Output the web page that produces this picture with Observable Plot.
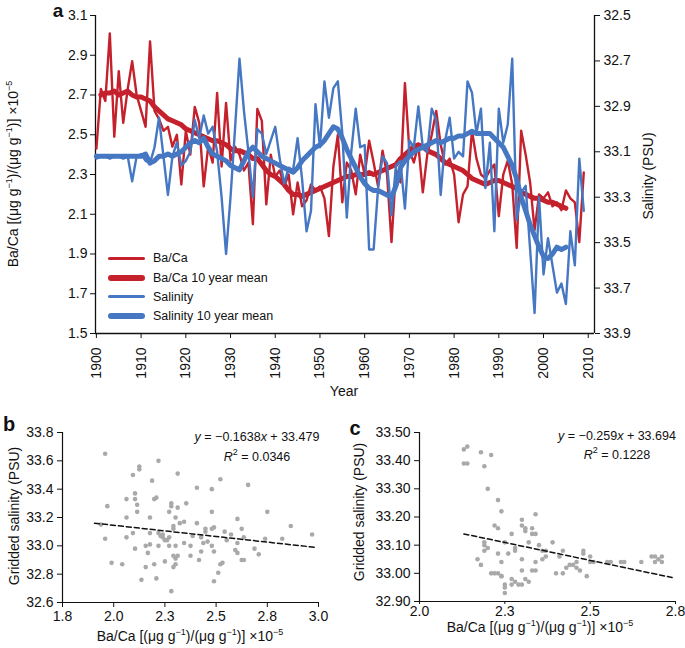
<!DOCTYPE html>
<html><head><meta charset="utf-8">
<script src="https://cdn.jsdelivr.net/npm/d3@7"></script>
<script src="https://cdn.jsdelivr.net/npm/@observablehq/plot@0.6"></script>
<style>
body{margin:0;background:#fff;font-family:"Liberation Sans",Arial,Helvetica,sans-serif;}
#wrap{position:relative;width:685px;height:648px;overflow:hidden;background:#fff;}
.lbl{position:absolute;font-size:14px;color:#111;white-space:nowrap;text-align:center;height:20px;line-height:20px;width:340px;}
.sup{font-size:9px;position:relative;top:-6px;}
.leg{position:absolute;font-size:12.5px;color:#111;white-space:nowrap;line-height:16px;}
.sw{position:absolute;}
</style></head><body><div id="wrap"></div>
<script>
// ---------- DATA ----------
const firstYear = 1900;
const baCa = [2.43,2.73,2.67,3.01,2.49,2.82,2.56,2.73,2.87,2.70,
 2.62,2.54,2.97,2.62,2.58,2.52,2.54,2.44,2.50,2.25,
 2.52,2.40,2.64,2.56,2.24,2.44,2.36,2.71,2.34,2.66,
 2.37,2.44,2.40,2.32,2.36,2.05,2.63,2.57,2.15,2.40,
 2.29,2.32,2.24,2.30,2.10,2.26,2.14,2.17,2.25,2.22,
 2.24,2.18,1.99,2.34,2.50,2.16,2.36,2.32,2.20,2.40,
 2.30,2.47,2.36,2.24,2.42,2.30,1.96,2.32,2.26,2.76,
 2.42,2.36,2.45,2.21,2.40,2.50,2.62,2.45,2.35,2.38,
 2.30,2.06,2.20,2.24,2.52,2.38,2.30,2.28,2.32,2.35,
 2.09,2.30,2.37,2.25,1.93,2.52,2.40,2.26,2.02,2.20,
 2.18,2.21,2.14,2.16,2.12,2.22,2.18,2.16,1.96,2.31];
const salinity = [33.13,33.12,33.12,33.13,33.12,33.12,33.13,33.12,33.23,33.12,
 33.11,33.14,33.15,33.08,32.95,33.12,33.29,33.12,33.06,33.16,
 33.14,33.10,32.96,33.04,32.94,33.02,32.99,33.10,33.30,33.55,
 33.30,33.00,32.69,32.92,33.10,33.30,33.00,33.02,33.11,33.05,
 32.99,33.13,33.24,33.17,33.18,33.04,33.22,33.45,33.36,32.89,
 33.08,32.79,32.95,32.82,32.79,33.02,33.39,33.10,32.91,33.08,
 33.07,33.53,33.53,33.26,33.12,33.15,33.38,33.16,33.14,33.35,
 33.05,33.08,32.90,33.08,33.10,32.91,32.96,33.29,33.05,32.95,
 33.13,33.10,33.12,32.79,32.84,33.02,32.91,33.26,33.06,33.45,
 32.91,33.06,32.98,32.69,33.40,33.28,33.25,33.53,33.81,33.30,
 33.64,33.48,33.60,33.72,33.68,33.77,33.45,33.60,33.13,33.36];
const baMeanStart = 1901;
const baMean = [2.70,2.71,2.71,2.72,2.70,2.71,2.72,2.70,2.69,2.69,
 2.68,2.67,2.64,2.62,2.60,2.58,2.57,2.56,2.55,2.53,
 2.52,2.51,2.50,2.49,2.48,2.47,2.47,2.46,2.45,2.43,
 2.42,2.42,2.41,2.40,2.38,2.38,2.35,2.32,2.30,2.29,
 2.27,2.25,2.22,2.20,2.20,2.19,2.20,2.21,2.22,2.23,
 2.24,2.25,2.26,2.27,2.28,2.29,2.29,2.30,2.30,2.30,
 2.31,2.30,2.31,2.32,2.33,2.34,2.35,2.38,2.40,2.42,
 2.44,2.45,2.44,2.42,2.41,2.40,2.38,2.36,2.35,2.34,
 2.33,2.32,2.30,2.28,2.27,2.26,2.25,2.26,2.27,2.27,
 2.26,2.25,2.24,2.23,2.21,2.20,2.19,2.18,2.18,2.17,
 2.16,2.16,2.15,2.14,2.13];
const salMeanStart = 1900;
const salMean = [33.12,33.12,33.12,33.12,33.12,33.12,33.12,33.12,33.12,33.12,
 33.12,33.11,33.15,33.14,33.12,33.12,33.11,33.12,33.11,33.10,
 33.08,33.06,33.05,33.06,33.04,33.08,33.11,33.12,33.13,33.14,
 33.16,33.17,33.18,33.14,33.10,33.08,33.10,33.12,33.13,33.14,
 33.15,33.16,33.17,33.18,33.19,33.17,33.14,33.12,33.10,33.08,
 33.07,33.05,33.02,32.99,33.00,33.04,33.09,33.13,33.17,33.21,
 33.24,33.26,33.27,33.27,33.28,33.29,33.30,33.25,33.17,33.14,
 33.12,33.10,33.09,33.08,33.07,33.06,33.05,33.06,33.05,33.04,
 33.04,33.03,33.03,33.02,33.01,33.02,33.02,33.02,33.02,33.04,
 33.06,33.08,33.12,33.16,33.22,33.30,33.36,33.42,33.47,33.52,
 33.56,33.57,33.55,33.52,33.53,33.52];

const yearTicks = [1900,1910,1920,1930,1940,1950,1960,1970,1980,1990,2000,2010];
const baTicks = [1.5,1.7,1.9,2.1,2.3,2.5,2.7,2.9,3.1];
const salTicks = [32.5,32.7,32.9,33.1,33.3,33.5,33.7,33.9];

// panel b
const bBaCa = [2.00,2.01,1.98,2.00,2.03,2.08,2.10,2.10,2.10,2.13,2.13,2.14,2.14,2.14,2.15,2.15,2.16,2.16,2.17,2.19,
 2.19,2.20,2.21,2.21,2.21,2.22,2.23,2.23,2.24,2.24,2.25,2.25,2.25,2.26,2.27,2.27,2.28,2.28,2.29,2.30,
 2.30,2.30,2.31,2.31,2.31,2.32,2.32,2.32,2.32,2.33,2.33,2.33,2.33,2.34,2.34,2.34,2.35,2.37,2.37,2.38,
 2.40,2.40,2.41,2.43,2.43,2.44,2.45,2.45,2.46,2.47,2.47,2.48,2.50,2.50,2.50,2.50,2.51,2.51,2.51,2.53,
 2.54,2.54,2.55,2.56,2.57,2.59,2.61,2.62,2.62,2.62,2.64,2.64,2.65,2.65,2.67,2.70,2.72,2.76,2.75,2.83,
 2.87,2.97];
const bSal = [33.65,33.28,33.15,33.05,32.88,32.87,33.20,33.33,33.06,33.09,33.50,32.98,33.33,33.37,33.29,33.24,33.56,33.54,32.76,32.85,
 33.00,32.95,33.20,33.01,33.09,33.46,32.87,33.33,33.34,32.77,33.60,33.00,33.09,33.07,33.08,33.06,32.89,33.04,33.04,33.06,
 33.00,33.24,32.68,33.30,33.28,33.12,32.85,32.93,33.14,32.87,33.00,32.91,33.20,33.27,33.51,32.93,33.16,33.17,33.02,33.30,
 32.93,33.00,33.07,33.41,33.16,32.90,32.96,33.06,33.02,33.10,33.12,33.03,33.12,33.24,33.40,33.00,33.13,32.75,32.96,32.81,
 32.87,33.47,32.88,33.10,33.04,33.08,32.97,32.95,33.02,33.19,33.12,32.90,32.90,33.06,33.43,32.98,32.94,33.24,33.05,33.05,
 33.14,33.08];
const bFitX = [1.95, 2.98];
const bFitY = [33.16, 32.99];
const bXTicks = [1.8, 2.04, 2.28, 2.52, 2.76, 3.0];
const bXLabels = ["1.8","2.0","2.3","2.5","2.8","3.0"];
const bYTicks = [32.6,32.8,33.0,33.2,33.4,33.6,33.8];

// panel c
const cBaCa = [2.13,2.14,2.13,2.14,2.18,2.21,2.19,2.20,2.23,2.24,2.22,2.23,2.19,2.19,2.19,2.20,2.17,2.18,2.21,2.22,
 2.23,2.23,2.24,2.24,2.25,2.24,2.25,2.25,2.25,2.26,2.27,2.27,2.27,2.28,2.28,2.28,2.29,2.30,2.30,2.30,
 2.30,2.31,2.31,2.30,2.31,2.32,2.32,2.33,2.33,2.34,2.34,2.33,2.34,2.34,2.35,2.36,2.36,2.37,2.37,2.39,
 2.40,2.41,2.42,2.42,2.43,2.44,2.45,2.46,2.46,2.47,2.48,2.48,2.49,2.50,2.50,2.51,2.55,2.56,2.59,2.60,
 2.65,2.68,2.69,2.69,2.70,2.71,2.71];
const cSal = [33.44,33.45,33.39,33.39,33.43,33.42,33.38,33.30,33.26,33.22,33.17,33.16,33.11,33.10,33.08,33.09,33.05,33.03,33.00,33.00,
 33.07,33.00,32.99,32.99,33.11,33.04,32.96,32.95,32.93,33.07,33.14,32.98,32.96,33.08,33.09,32.97,32.96,32.96,33.05,33.19,
 33.17,33.16,33.15,33.01,32.98,32.97,33.11,33.14,33.16,33.21,33.14,33.01,33.01,33.04,33.10,33.08,33.05,33.06,33.08,33.11,
 33.00,33.06,33.00,33.08,33.02,33.03,33.03,33.02,33.04,33.01,33.07,33.08,32.99,33.06,33.04,33.04,33.04,33.04,33.04,33.04,
 33.04,33.06,33.04,33.06,33.05,33.04,33.06];
const cFitX = [2.13, 2.74];
const cFitY = [33.14, 32.985];
const cXTicks = [2.0, 2.25, 2.5, 2.75];
const cXLabels = ["2.0","2.3","2.5","2.8"];
const cYTicks = [32.9,33.0,33.1,33.2,33.3,33.4,33.5];

const RED = "#c4212c", BLUE = "#4677c3", DOT = "#a9a9a9", INK = "#111";

// ---------- BUILD ----------
const wrap = document.getElementById("wrap");
const FONT = '"Liberation Sans", Arial, Helvetica, sans-serif';
function place(svg, left, top) {
  svg.style.position = "absolute"; svg.style.left = left + "px"; svg.style.top = top + "px";
  svg.style.maxWidth = "none";
  wrap.appendChild(svg);
}
const baRows = baCa.map((v, i) => ({year: firstYear + i, v}));
const salRows = salinity.map((v, i) => ({year: firstYear + i, v}));
const baMeanRows = baMean.map((v, i) => ({year: baMeanStart + i, v}));
const salMeanRows = salMean.map((v, i) => ({year: salMeanStart + i, v}));
const xDomain = [1899.8, 2011.4];
const topDims = {width: 685, height: 400, marginLeft: 95, marginRight: 91, marginTop: 15, marginBottom: 67};
const baseStyle = {fontFamily: FONT, fontSize: "14px", color: INK, background: "transparent", overflow: "visible"};

const pTop1 = Plot.plot({
  ...topDims, style: baseStyle,
  x: {domain: xDomain, ticks: yearTicks, tickFormat: d => String(d), tickRotate: -90, tickSize: 5, tickPadding: 9, label: null},
  y: {domain: [1.5, 3.1], ticks: baTicks, tickFormat: d => d.toFixed(1), tickSize: 5, tickPadding: 3, label: null},
  marks: [
    Plot.ruleX([xDomain[0]], {stroke: INK, strokeWidth: 1.3}),
    Plot.ruleY([1.5], {stroke: INK, strokeWidth: 1.3}),
    Plot.line(baRows, {x: "year", y: "v", stroke: RED, strokeWidth: 2.4, strokeLinejoin: "round"}),
    Plot.line(baMeanRows, {x: "year", y: "v", stroke: RED, strokeWidth: 5, strokeLinejoin: "round", strokeLinecap: "round"})
  ]
});
place(pTop1, 0, 0);

const pTop2 = Plot.plot({
  ...topDims, style: baseStyle,
  x: {domain: xDomain, axis: null},
  y: {domain: [32.5, 33.9], reverse: true, axis: "right", ticks: salTicks, tickFormat: d => d.toFixed(1), tickSize: 5, tickPadding: 4, label: null},
  marks: [
    Plot.ruleX([xDomain[1]], {stroke: INK, strokeWidth: 1.3}),
    Plot.line(salRows, {x: "year", y: "v", stroke: BLUE, strokeWidth: 2.4, strokeLinejoin: "round"}),
    Plot.line(salMeanRows, {x: "year", y: "v", stroke: BLUE, strokeWidth: 5, strokeLinejoin: "round", strokeLinecap: "round"})
  ]
});
place(pTop2, 0, 0);

function scatter(opts) {
  const pts = opts.xs.map((x, i) => ({x, y: opts.ys[i]}));
  const fit = opts.fx.map((x, i) => ({x, y: opts.fy[i]}));
  return Plot.plot({
    width: 340, height: 238, marginLeft: opts.ml, marginRight: opts.mr, marginTop: 22, marginBottom: opts.mb,
    style: baseStyle,
    x: {domain: opts.xd, ticks: opts.xt, tickFormat: d => opts.xl[opts.xt.indexOf(d)], tickSize: opts.xts, tickPadding: opts.xtp, label: null},
    y: {domain: opts.yd, ticks: opts.yt, tickFormat: d => d.toFixed(opts.dec), tickSize: 5, tickPadding: 4, label: null},
    marks: [
      Plot.ruleX([opts.xd[0]], {stroke: INK, strokeWidth: 1.2}),
      Plot.ruleY([opts.yd[0]], {stroke: INK, strokeWidth: 1.2}),
      Plot.dot(pts, {x: "x", y: "y", r: 2.3, fill: DOT, stroke: "none"}),
      Plot.line(fit, {x: "x", y: "y", stroke: INK, strokeWidth: 1.5, strokeDasharray: "5,3"})
    ]
  });
}
place(scatter({xs: bBaCa, ys: bSal, fx: bFitX, fy: bFitY, xd: [1.8, 3.0], yd: [32.6, 33.8], xt: bXTicks, xl: bXLabels, yt: bYTicks, dec: 1, ml: 62, mr: 22, mb: 46, xts: 5, xtp: 4}), 0, 410);
place(scatter({xs: cBaCa, ys: cSal, fx: cFitX, fy: cFitY, xd: [2.0, 2.75], yd: [32.9, 33.5], xt: cXTicks, xl: cXLabels, yt: cYTicks, dec: 2, ml: 74, mr: 10, mb: 47, xts: 3, xtp: 2}), 345, 410);

// ---------- TEXT ----------
function label(html, cx, cy, o = {}) {
  const d = document.createElement("div");
  d.className = "lbl";
  d.innerHTML = html;
  d.style.left = (cx - 170) + "px";
  d.style.top = (cy - 10) + "px";
  if (o.size) d.style.fontSize = o.size + "px";
  if (o.bold) d.style.fontWeight = "bold";
  if (o.rot) d.style.transform = "rotate(-90deg)";
  wrap.appendChild(d);
}
const unitLabel = 'Ba/Ca [(μg g<span class="sup">−1</span>)/(μg g<span class="sup">−1</span>)] ×10<span class="sup">−5</span>';
label("a", 58, 11, {bold: true, size: 19});
label("b", 9, 424, {bold: true, size: 20});
label("c", 355, 428, {bold: true, size: 20});
label(unitLabel, 13, 174, {rot: true});
label("Salinity (PSU)", 648, 176, {rot: true});
label("Year", 344, 391);
label("Gridded salinity (PSU)", 14, 516, {rot: true});
label(unitLabel, 190, 636);
label("Gridded salinity (PSU)", 359, 512, {rot: true});
label(unitLabel, 540, 627);
label('<i>y</i> = −0.1638<i>x</i> + 33.479', 257, 437, {size: 12.5});
label('<i>R</i><span class="sup">2</span> = 0.0346', 257, 457, {size: 12.5});
label('<i>y</i> = −0.259<i>x</i> + 33.694', 617, 436, {size: 12.5});
label('<i>R</i><span class="sup">2</span> = 0.1228', 617, 455, {size: 12.5});

// legend
const legendItems = [
  {name: "Ba/Ca", color: RED, w: 3},
  {name: "Ba/Ca 10 year mean", color: RED, w: 6},
  {name: "Salinity", color: BLUE, w: 3},
  {name: "Salinity 10 year mean", color: BLUE, w: 6}
];
const legendY = [258, 277.5, 296.5, 315.5];
legendItems.forEach((it, i) => {
  const s = document.createElement("div");
  s.className = "sw";
  s.style.left = "108px"; s.style.width = "37px";
  s.style.top = (legendY[i] - it.w / 2) + "px"; s.style.height = it.w + "px";
  s.style.background = it.color; s.style.borderRadius = (it.w / 2) + "px";
  wrap.appendChild(s);
  const t = document.createElement("div");
  t.className = "leg";
  t.textContent = it.name;
  t.style.left = "153px"; t.style.top = (legendY[i] - 8) + "px";
  wrap.appendChild(t);
});
</script></body></html>
